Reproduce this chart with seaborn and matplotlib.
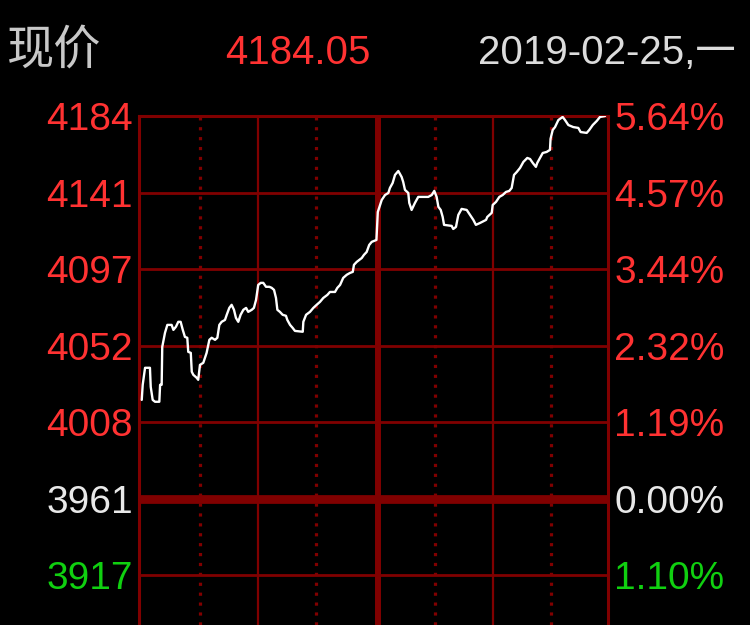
import matplotlib
matplotlib.use("Agg")
import matplotlib.pyplot as plt
import seaborn as sns
import pandas as pd

# intraday trace: session slot (0..240), price
minutes = [1.4, 1.9, 3.1, 5.6, 6.0, 7.0, 8.2, 10.4, 10.8, 11.6, 11.9, 13.3, 14.5, 16.7,
           17.6, 18.9, 20.1, 21.3, 22.4, 23.5, 24.7, 25.2, 26.5, 27.0, 27.8, 29.5, 30.3,
           31.2, 32.9, 34.6, 36.0, 37.2, 38.9, 40.1, 41.1, 42.3, 44.0, 44.9, 46.2, 47.4,
           48.6, 49.6, 50.8, 52.0, 53.4, 54.8, 55.9, 57.7, 58.8, 59.9, 61.0, 62.3, 63.6,
           65.0, 66.7, 67.9, 69.1, 70.1, 70.8, 72.1, 73.5, 75.2, 75.9, 77.3, 78.6, 79.8,
           83.8, 84.1, 85.5, 87.5, 89.2, 90.9, 92.6, 94.3, 96.4, 97.7, 100.3, 101.5, 102.9,
           104.5, 106.3, 108.0, 109.4, 110.0, 111.4, 114.0, 115.1, 116.5, 117.8, 119.1,
           121.5, 122.2, 124.2, 125.9, 127.6, 128.4, 129.8, 131.0, 132.7, 134.4, 135.2,
           136.1, 137.8, 138.3, 139.5, 141.2, 142.9, 148.0, 149.8, 151.1, 152.3, 153.2,
           154.4, 155.4, 156.1, 160.0, 160.8, 162.2, 163.4, 165.1, 167.7, 169.4, 171.1,
           172.4, 174.5, 177.6, 178.2, 180.5, 181.0, 182.7, 184.4, 186.1, 187.8, 189.5,
           190.7, 191.9, 193.3, 195.0, 196.7, 198.7, 200.1, 201.5, 203.1, 203.8, 205.2,
           206.6, 208.6, 210.3, 210.6, 211.7, 212.9, 214.6, 216.8, 218.0, 219.7, 222.2,
           224.8, 226.0, 229.1, 230.4, 232.2, 234.2, 235.9, 238.5]
prices = [4018.6, 4027.4, 4037.3, 4037.3, 4026.2, 4018.6, 4017.5, 4017.5, 4027.4, 4027.4,
          4049.5, 4057.7, 4062.3, 4062.3, 4059.4, 4061.2, 4064.1, 4064.1, 4059.4, 4055.3,
          4054.8, 4046.6, 4046.0, 4035.0, 4033.2, 4031.5, 4030.3, 4039.0, 4040.2, 4046.0,
          4053.6, 4054.8, 4053.6, 4054.8, 4062.3, 4064.1, 4065.2, 4068.2, 4072.2, 4074.0,
          4071.1, 4066.4, 4064.1, 4068.2, 4071.1, 4072.2, 4069.9, 4071.1, 4072.2, 4076.9,
          4085.6, 4086.8, 4086.8, 4084.5, 4084.5, 4083.9, 4082.7, 4078.0, 4071.1, 4069.9,
          4068.2, 4067.6, 4065.2, 4062.3, 4060.6, 4058.8, 4058.3, 4064.1, 4068.2, 4069.9,
          4072.2, 4074.0, 4075.7, 4078.0, 4079.8, 4081.5, 4081.5, 4083.9, 4085.6, 4089.7,
          4091.5, 4092.6, 4093.2, 4097.3, 4099.0, 4101.3, 4103.1, 4104.8, 4108.9, 4110.7,
          4111.8, 4128.1, 4135.1, 4138.0, 4139.2, 4142.1, 4145.0, 4149.7, 4152.0, 4148.5,
          4145.6, 4141.0, 4139.2, 4133.4, 4129.3, 4133.4, 4136.9, 4136.9, 4138.0, 4140.4,
          4136.9, 4131.1, 4129.3, 4125.2, 4120.6, 4120.0, 4118.2, 4119.4, 4126.4, 4129.9,
          4129.3, 4126.4, 4123.5, 4120.6, 4121.7, 4123.5, 4125.2, 4127.6, 4132.2, 4134.0,
          4136.9, 4138.0, 4139.8, 4140.4, 4142.1, 4149.7, 4151.4, 4153.8, 4157.3, 4159.6,
          4159.0, 4156.7, 4154.4, 4156.7, 4159.6, 4162.5, 4163.1, 4164.3, 4170.7, 4175.9,
          4177.6, 4181.7, 4183.5, 4181.7, 4178.8, 4177.6, 4177.1, 4174.7, 4174.2, 4175.9,
          4178.8, 4181.1, 4183.5, 4184.05]

pre_close = 3961
last_price = 4184.05
trade_date = "2019-02-25,一"
price_labels = ["4184", "4141", "4097", "4052", "4008", "3961", "3917"]
pct_labels = ["5.64%", "4.57%", "3.44%", "2.32%", "1.19%", "0.00%", "1.10%"]
# half-hour / hour grid positions on the slot axis (as drawn by the terminal)
half_hours = [31.4, 90.6, 151.3, 210.6]
hours = [60.9, 180.9]
midday = 122.4

RED = "#ff3232"
GRID = "#800000"
label_colors = [RED] * 5 + ["#e8e8e8", "#10d010"]

sns.set_theme(style="dark")
plt.rcParams.update({
    "figure.facecolor": "black",
    "axes.facecolor": "black",
    "savefig.facecolor": "black",
})
plt.rcParams["font.family"] = ["Liberation Sans", "Noto Sans CJK SC", "DejaVu Sans"]

df = pd.DataFrame({"minute": minutes, "price": prices})

fig = plt.figure(figsize=(7.5, 6.25), dpi=100)
ax = fig.add_axes([139 / 750, 0.0, 469 / 750, 1 - 116 / 625])

step = (last_price - pre_close) / 5
levels = [last_price - i * step for i in range(7)]

# grid: horizontal price levels, hourly solid lines, half-hour dotted lines
for i, lv in enumerate(levels[1:], start=1):
    ax.axhline(lv, color=GRID, lw=6.3 if i == 5 else 2.0, zorder=1)
for m in hours:
    ax.axvline(m, color=GRID, lw=1.6, zorder=1)
ax.axvline(midday, color=GRID, lw=4.3, zorder=1)
for m in half_hours:
    ax.axvline(m, color=GRID, lw=2.3, ls=(0, (1.0, 2.1)), zorder=1)

sns.lineplot(data=df, x="minute", y="price", ax=ax, color="white", lw=1.7, zorder=3)

ax.set_xlim(0, 240)
ax.set_ylim(pre_close - 1.65 * step, last_price)
ax.set_xlabel("")
ax.set_ylabel("")
ax.set_xticks([])
ax.grid(False)
for side in ["left", "right", "top"]:
    ax.spines[side].set_visible(True)
    ax.spines[side].set_color(GRID)
    ax.spines[side].set_linewidth(2.2)
ax.spines["bottom"].set_visible(False)

ax.set_yticks(levels, price_labels)
ax.tick_params(axis="y", length=0, pad=4.5, labelsize=28)
for t, c in zip(ax.get_yticklabels(), label_colors):
    t.set_color(c)

ax2 = ax.twinx()
ax2.set_ylim(ax.get_ylim())
ax2.set_yticks(levels, pct_labels)
ax2.tick_params(axis="y", length=0, pad=4.5, labelsize=28)
ax2.grid(False)
for s in ax2.spines.values():
    s.set_visible(False)
for t, c in zip(ax2.get_yticklabels(), label_colors):
    t.set_color(c)

# header row
fig.text(7 / 750, 1 - 64 / 625, "现价", color="#c8c8c8", fontsize=34,
         family=["Noto Sans CJK SC"], va="baseline", ha="left")
fig.text(225 / 750, 1 - 64 / 625, f"{last_price:.2f}", color=RED, fontsize=29,
         va="baseline", ha="left")
fig.text(478 / 750, 1 - 64 / 625, trade_date, color="#dcdcdc", fontsize=29,
         family=["Liberation Sans", "Noto Sans CJK SC"], va="baseline", ha="left")

fig.savefig("out.png", dpi=100)
